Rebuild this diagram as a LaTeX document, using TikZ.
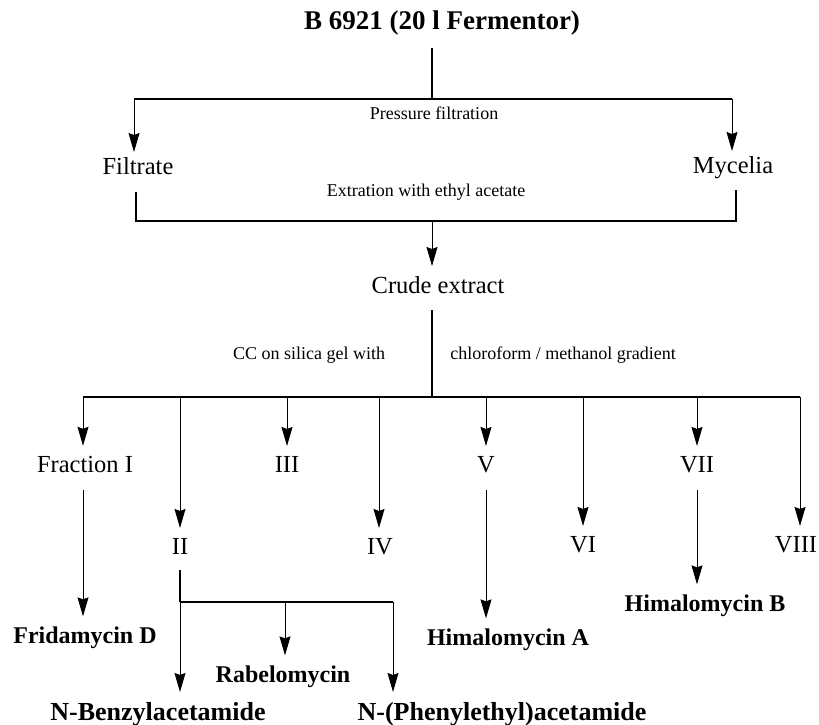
\documentclass[tikz,border=0pt]{standalone}
\usepackage{fontspec}
\setmainfont{Liberation Serif}
\usetikzlibrary{arrows.meta}

\tikzset{
  stage/.style={inner sep=0pt, outer sep=10pt, anchor=base, font=\fontsize{24.5}{29}\selectfont},
  note/.style={inner sep=0pt, anchor=base, font=\fontsize{18}{22}\selectfont},
  product/.style={inner sep=0pt, outer sep=10pt, anchor=base, font=\fontsize{24}{29}\selectfont\bfseries},
  bigproduct/.style={product, font=\fontsize{26}{31}\selectfont\bfseries},
  bar/.style={line width=2pt},
  stem/.style={line width=1.4pt},
  flow/.style={line width=0.9pt, -{Stealth[length=19pt,width=11pt,inset=2pt]}},
}

\begin{document}
\begin{tikzpicture}[x=1pt,y=-1pt]
\useasboundingbox (0,0) rectangle (819,724);

% Fermentation and filtration
\node[product, font=\fontsize{27}{32}\selectfont\bfseries] (ferm) at (442,29) {B 6921 (20 l Fermentor)};
\coordinate (split) at (432,99);
\coordinate (splitL) at (134,99);
\coordinate (splitR) at (732,99);
\draw[stem, shorten <=3pt] (split |- ferm.south) -- (split);
\draw[bar] (splitL) -- (splitR);
\node[note] (press) at (434,119) {Pressure filtration};
\node[stage, outer sep=5pt] (filt) at (138,174) {Filtrate};
\node[stage, outer sep=5pt] (myc) at (733,173) {Mycelia};
\draw[flow] (splitL) -- (splitL |- filt.north);
\draw[flow] (splitR) -- (splitR |- myc.north);

% Extraction
\node[note] (extr) at (426,196) {Extration with ethyl acetate};
\coordinate (joinL) at (136,192);
\coordinate (join) at (432,221);
\coordinate (joinR) at (736,190);
\draw[bar] (joinL) |- (join) -| (joinR);
\node[stage] (crude) at (438,293) {Crude extract};
\draw[flow] (join) -- (join |- crude.north);

% Column chromatography
\coordinate (cc) at (432,397);
\draw[stem, shorten <=7pt] (cc |- crude.south) -- (cc);
\node[note] (ccl) at (309,359) {CC on silica gel with};
\node[note] (ccr) at (563,359) {chloroform / methanol gradient};
\foreach \i/\x in {1/83,2/180,3/287,4/379,5/486,6/583,7/697,8/800}
  \coordinate (f\i) at (\x,397);
\draw[bar] (f1) -- (f8);

% Fractions
\node[stage] (fr1) at (85,472) {Fraction I};
\node[stage] (fr2) at (180,554) {II};
\node[stage] (fr3) at (287,472) {III};
\node[stage] (fr4) at (380,554) {IV};
\node[stage] (fr5) at (486,472) {V};
\node[stage] (fr6) at (583,552) {VI};
\node[stage] (fr7) at (697,472) {VII};
\node[stage] (fr8) at (796,552) {VIII};
\foreach \i in {1,...,8}
  \draw[flow] (f\i) -- (f\i |- fr\i.north);

% Compounds
\node[product] (frid) at (85,643) {Fridamycin D};
\node[product] (hima) at (508,645) {Himalomycin A};
\node[product] (himb) at (705,611) {Himalomycin B};
\draw[flow, shorten <=8pt] (f1 |- fr1.south) -- (f1 |- frid.north);
\draw[flow, shorten <=8pt] (f5 |- fr5.south) -- (f5 |- hima.north);
\draw[flow, shorten <=8pt] (f7 |- fr7.south) -- (f7 |- himb.north);

% Fraction II
\coordinate (sub) at (180,602);
\coordinate (subM) at (285,602);
\coordinate (subR) at (393,602);
\draw[stem, shorten <=6pt] (fr2.south) -- (sub);
\draw[bar] (sub) -- (subR);
\node[product] (rab) at (283,682) {Rabelomycin};
\node[bigproduct] (nbz) at (158,720) {N-Benzylacetamide};
\node[bigproduct] (npe) at (502,720) {N-(Phenylethyl)acetamide};
\draw[flow] (sub) -- (sub |- nbz.north);
\draw[flow] (subM) -- (subM |- rab.north);
\draw[flow] (subR) -- (subR |- npe.north);
\end{tikzpicture}
\end{document}
